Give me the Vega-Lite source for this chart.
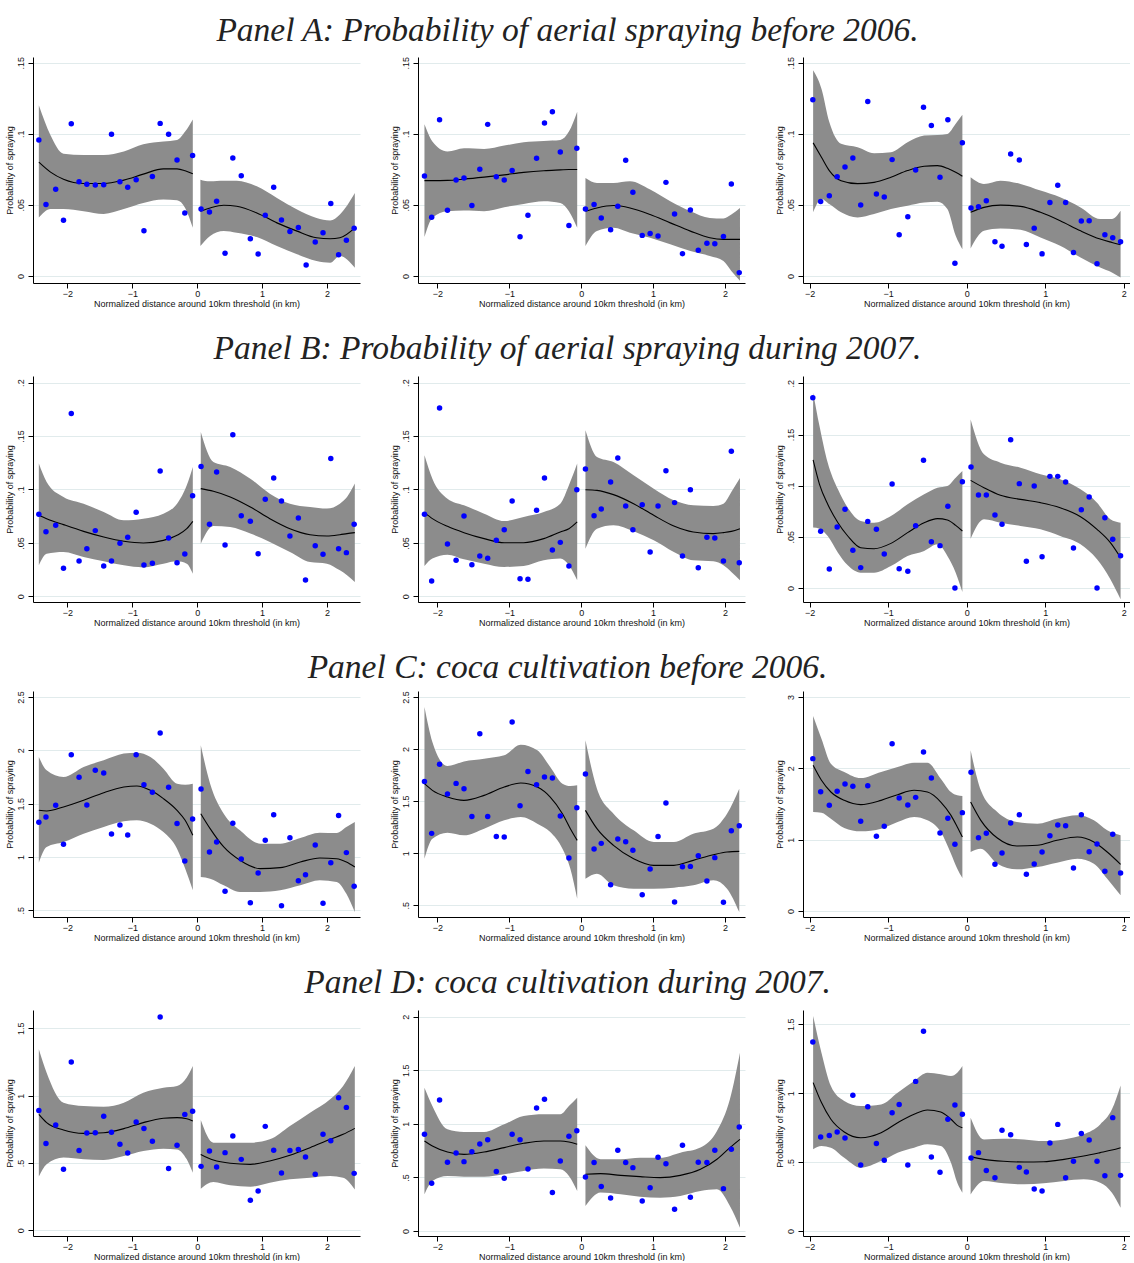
{
"$schema":"https://vega.github.io/schema/vega-lite/v6.json",
"padding":{"left":5,"top":13,"right":0,"bottom":0},
"background":"white",
"spacing":24,
"datasets":{
"A1":[{"x":-2.44,"y":0.0956},{"x":-2.33,"y":0.0502},{"x":-2.18,"y":0.0609},{"x":-2.06,"y":0.0392},{"x":-1.94,"y":0.1071},{"x":-1.82,"y":0.0663},{"x":-1.7,"y":0.0644},{"x":-1.57,"y":0.0639},{"x":-1.44,"y":0.0642},{"x":-1.32,"y":0.0996},{"x":-1.19,"y":0.0663},{"x":-1.07,"y":0.0623},{"x":-0.94,"y":0.0677},{"x":-0.82,"y":0.0317},{"x":-0.69,"y":0.07},{"x":-0.57,"y":0.1073},{"x":-0.44,"y":0.0996},{"x":-0.31,"y":0.0816},{"x":-0.19,"y":0.0443},{"x":-0.07,"y":0.0847},{"x":0.06,"y":0.0471},{"x":0.19,"y":0.045},{"x":0.3,"y":0.0525},{"x":0.43,"y":0.0159},{"x":0.55,"y":0.083},{"x":0.68,"y":0.0705},{"x":0.82,"y":0.0261},{"x":0.94,"y":0.0154},{"x":1.05,"y":0.0427},{"x":1.18,"y":0.0623},{"x":1.3,"y":0.0394},{"x":1.43,"y":0.0313},{"x":1.56,"y":0.0341},{"x":1.68,"y":0.0077},{"x":1.82,"y":0.0238},{"x":1.94,"y":0.0303},{"x":2.06,"y":0.0509},{"x":2.18,"y":0.0149},{"x":2.3,"y":0.025},{"x":2.42,"y":0.0336}],
"A1c":[{"s":0,"x":-2.44,"f":0.08,"l":0.041,"h":0.12},{"s":0,"x":-2.26,"f":0.073,"l":0.047,"h":0.099},{"s":0,"x":-2.06,"f":0.068,"l":0.047,"h":0.086},{"s":0,"x":-1.75,"f":0.065,"l":0.0455,"h":0.085},{"s":0,"x":-1.44,"f":0.065,"l":0.0436,"h":0.085},{"s":0,"x":-1.13,"f":0.0674,"l":0.047,"h":0.0875},{"s":0,"x":-0.83,"f":0.0716,"l":0.0513,"h":0.0926},{"s":0,"x":-0.52,"f":0.0753,"l":0.0537,"h":0.0945},{"s":0,"x":-0.31,"f":0.0753,"l":0.0532,"h":0.0956},{"s":0,"x":-0.185,"f":0.074,"l":0.0478,"h":0.1015},{"s":0,"x":-0.067,"f":0.0718,"l":0.0338,"h":0.11},
{"s":1,"x":0.05,"f":0.0455,"l":0.021,"h":0.0677},{"s":1,"x":0.2,"f":0.0478,"l":0.028,"h":0.0665},{"s":1,"x":0.41,"f":0.0497,"l":0.0315,"h":0.067},{"s":1,"x":0.61,"f":0.049,"l":0.0303,"h":0.067},{"s":1,"x":0.92,"f":0.0443,"l":0.0273,"h":0.063},{"s":1,"x":1.23,"f":0.0373,"l":0.021,"h":0.0548},{"s":1,"x":1.54,"f":0.0315,"l":0.0152,"h":0.0467},{"s":1,"x":1.84,"f":0.0268,"l":0.0105,"h":0.0408},{"s":1,"x":2.05,"f":0.0261,"l":0.0093,"h":0.039},{"s":1,"x":2.2,"f":0.0268,"l":0.014,"h":0.0432},{"s":1,"x":2.43,"f":0.0338,"l":0.0058,"h":0.0583}],
"A2":[{"x":-2.18,"y":0.0702},{"x":-2.08,"y":0.0413},{"x":-1.97,"y":0.1099},{"x":-1.86,"y":0.0462},{"x":-1.74,"y":0.0674},{"x":-1.63,"y":0.0688},{"x":-1.52,"y":0.0495},{"x":-1.41,"y":0.0751},{"x":-1.3,"y":0.1066},{"x":-1.18,"y":0.0698},{"x":-1.07,"y":0.0674},{"x":-0.96,"y":0.0742},{"x":-0.85,"y":0.0275},{"x":-0.74,"y":0.0427},{"x":-0.62,"y":0.0828},{"x":-0.51,"y":0.1075},{"x":-0.4,"y":0.1155},{"x":-0.29,"y":0.0872},{"x":-0.17,"y":0.0355},{"x":-0.06,"y":0.0898},{"x":0.06,"y":0.0471},{"x":0.18,"y":0.0502},{"x":0.28,"y":0.0408},{"x":0.41,"y":0.0324},{"x":0.51,"y":0.049},{"x":0.62,"y":0.0814},{"x":0.72,"y":0.0588},{"x":0.85,"y":0.0285},{"x":0.96,"y":0.0299},{"x":1.07,"y":0.028},{"x":1.18,"y":0.0658},{"x":1.3,"y":0.0436},{"x":1.41,"y":0.0156},{"x":1.52,"y":0.0464},{"x":1.63,"y":0.018},{"x":1.75,"y":0.0229},{"x":1.86,"y":0.0226},{"x":1.98,"y":0.0278},{"x":2.09,"y":0.0646},{"x":2.2,"y":0.0023}],
"A2c":[{"s":0,"x":-2.18,"f":0.067,"l":0.0273,"h":0.1066},{"s":0,"x":-2.07,"f":0.067,"l":0.0408,"h":0.0945},{"s":0,"x":-1.86,"f":0.0672,"l":0.0455,"h":0.0875},{"s":0,"x":-1.63,"f":0.0681,"l":0.046,"h":0.0898},{"s":0,"x":-1.35,"f":0.0695,"l":0.0455,"h":0.0893},{"s":0,"x":-1.07,"f":0.0711,"l":0.0483,"h":0.0917},{"s":0,"x":-0.8,"f":0.0728,"l":0.0506,"h":0.094},{"s":0,"x":-0.52,"f":0.074,"l":0.0525,"h":0.0949},{"s":0,"x":-0.29,"f":0.0746,"l":0.0513,"h":0.0956},{"s":0,"x":-0.17,"f":0.0749,"l":0.0455,"h":0.1015},{"s":0,"x":-0.055,"f":0.0749,"l":0.0338,"h":0.1155},
{"s":1,"x":0.06,"f":0.0455,"l":0.021,"h":0.0688},{"s":1,"x":0.22,"f":0.0478,"l":0.0315,"h":0.0653},{"s":1,"x":0.45,"f":0.0495,"l":0.0338,"h":0.0653},{"s":1,"x":0.68,"f":0.0478,"l":0.0303,"h":0.0665},{"s":1,"x":0.96,"f":0.0432,"l":0.0268,"h":0.0607},{"s":1,"x":1.24,"f":0.0373,"l":0.0222,"h":0.0525},{"s":1,"x":1.52,"f":0.0315,"l":0.0175,"h":0.0455},{"s":1,"x":1.79,"f":0.0268,"l":0.014,"h":0.0408},{"s":1,"x":1.98,"f":0.0257,"l":0.0105,"h":0.0404},{"s":1,"x":2.09,"f":0.0257,"l":0.0035,"h":0.0432},{"s":1,"x":2.21,"f":0.0257,"l":-0.0035,"h":0.0478}],
"A3":[{"x":-1.96,"y":0.1239},{"x":-1.86,"y":0.0524},{"x":-1.75,"y":0.0564},{"x":-1.65,"y":0.0698},{"x":-1.55,"y":0.0766},{"x":-1.45,"y":0.083},{"x":-1.35,"y":0.0498},{"x":-1.26,"y":0.1227},{"x":-1.15,"y":0.0576},{"x":-1.05,"y":0.0555},{"x":-0.95,"y":0.0818},{"x":-0.86,"y":0.0289},{"x":-0.75,"y":0.0416},{"x":-0.65,"y":0.0745},{"x":-0.55,"y":0.1187},{"x":-0.45,"y":0.1058},{"x":-0.34,"y":0.0694},{"x":-0.24,"y":0.1098},{"x":-0.15,"y":0.0089},{"x":-0.055,"y":0.0936},{"x":0.055,"y":0.0477},{"x":0.15,"y":0.0487},{"x":0.25,"y":0.0529},{"x":0.36,"y":0.024},{"x":0.45,"y":0.0209},{"x":0.56,"y":0.0858},{"x":0.67,"y":0.0816},{"x":0.76,"y":0.0221},{"x":0.86,"y":0.0336},{"x":0.96,"y":0.0155},{"x":1.06,"y":0.0517},{"x":1.16,"y":0.0637},{"x":1.26,"y":0.0517},{"x":1.36,"y":0.0165},{"x":1.46,"y":0.0386},{"x":1.56,"y":0.0388},{"x":1.66,"y":0.0085},{"x":1.76,"y":0.0289},{"x":1.86,"y":0.0268},{"x":1.96,"y":0.024}],
"A3c":[{"s":0,"x":-1.956,"f":0.0936,"l":0.0447,"h":0.1446},{"s":0,"x":-1.85,"f":0.0835,"l":0.0541,"h":0.1317},{"s":0,"x":-1.75,"f":0.0741,"l":0.0505,"h":0.1082},{"s":0,"x":-1.6,"f":0.067,"l":0.0447,"h":0.0929},{"s":0,"x":-1.39,"f":0.0649,"l":0.0411,"h":0.0905},{"s":0,"x":-1.18,"f":0.0658,"l":0.0435,"h":0.0863},{"s":0,"x":-0.965,"f":0.0694,"l":0.047,"h":0.087},{"s":0,"x":-0.753,"f":0.0741,"l":0.0494,"h":0.094},{"s":0,"x":-0.542,"f":0.0771,"l":0.0517,"h":0.0987},{"s":0,"x":-0.372,"f":0.0776,"l":0.0522,"h":0.0992},{"s":0,"x":-0.246,"f":0.0757,"l":0.047,"h":0.0999},{"s":0,"x":-0.14,"f":0.0729,"l":0.0282,"h":0.107},{"s":0,"x":-0.055,"f":0.0701,"l":0.0188,"h":0.1133},
{"s":1,"x":0.05,"f":0.0447,"l":0.0193,"h":0.0694},{"s":1,"x":0.22,"f":0.0482,"l":0.0317,"h":0.0647},{"s":1,"x":0.43,"f":0.0498,"l":0.0334,"h":0.067},{"s":1,"x":0.686,"f":0.0489,"l":0.0324,"h":0.0647},{"s":1,"x":0.94,"f":0.0447,"l":0.027,"h":0.06},{"s":1,"x":1.19,"f":0.0388,"l":0.0212,"h":0.0553},{"s":1,"x":1.45,"f":0.0317,"l":0.0129,"h":0.0482},{"s":1,"x":1.7,"f":0.0259,"l":0.0059,"h":0.04},{"s":1,"x":1.85,"f":0.0235,"l":0.0024,"h":0.04},{"s":1,"x":1.96,"f":0.0219,"l":-0.0012,"h":0.0458}],
"B1":[{"x":-2.44,"y":0.0768},{"x":-2.33,"y":0.0605},{"x":-2.18,"y":0.0665},{"x":-2.06,"y":0.0262},{"x":-1.94,"y":0.171},{"x":-1.82,"y":0.0331},{"x":-1.7,"y":0.0446},{"x":-1.57,"y":0.0615},{"x":-1.44,"y":0.0284},{"x":-1.32,"y":0.0331},{"x":-1.19,"y":0.0496},{"x":-1.07,"y":0.0552},{"x":-0.94,"y":0.0786},{"x":-0.82,"y":0.0293},{"x":-0.69,"y":0.0309},{"x":-0.57,"y":0.1173},{"x":-0.44,"y":0.0546},{"x":-0.31,"y":0.0315},{"x":-0.19,"y":0.0396},{"x":-0.07,"y":0.0942},{"x":0.06,"y":0.1214},{"x":0.19,"y":0.0674},{"x":0.3,"y":0.1164},{"x":0.43,"y":0.048},{"x":0.55,"y":0.1513},{"x":0.68,"y":0.0755},{"x":0.82,"y":0.0702},{"x":0.94,"y":0.0399},{"x":1.05,"y":0.0908},{"x":1.18,"y":0.1108},{"x":1.3,"y":0.0892},{"x":1.43,"y":0.0565},{"x":1.56,"y":0.0733},{"x":1.67,"y":0.0153},{"x":1.82,"y":0.0474},{"x":1.94,"y":0.0393},{"x":2.06,"y":0.1289},{"x":2.18,"y":0.0446},{"x":2.3,"y":0.0409},{"x":2.42,"y":0.0674}],
"B1c":[{"s":0,"x":-2.44,"f":0.0758,"l":0.029,"h":0.1242},{"s":0,"x":-2.32,"f":0.0727,"l":0.0399,"h":0.107},{"s":0,"x":-2.06,"f":0.0671,"l":0.0415,"h":0.093},{"s":0,"x":-1.75,"f":0.0608,"l":0.0368,"h":0.0867},{"s":0,"x":-1.44,"f":0.0555,"l":0.0328,"h":0.0789},{"s":0,"x":-1.13,"f":0.0515,"l":0.029,"h":0.0711},{"s":0,"x":-0.83,"f":0.0499,"l":0.0271,"h":0.0727},{"s":0,"x":-0.52,"f":0.0524,"l":0.0306,"h":0.0774},{"s":0,"x":-0.31,"f":0.0571,"l":0.0328,"h":0.0867},{"s":0,"x":-0.16,"f":0.0633,"l":0.0306,"h":0.1039},{"s":0,"x":-0.067,"f":0.0702,"l":0.0212,"h":0.1211},
{"s":1,"x":0.056,"f":0.1008,"l":0.0493,"h":0.1538},{"s":1,"x":0.25,"f":0.0983,"l":0.0658,"h":0.1257},{"s":1,"x":0.51,"f":0.093,"l":0.0649,"h":0.1211},{"s":1,"x":0.82,"f":0.0836,"l":0.0587,"h":0.1101},{"s":1,"x":1.12,"f":0.0727,"l":0.0509,"h":0.0961},{"s":1,"x":1.43,"f":0.0633,"l":0.0415,"h":0.0867},{"s":1,"x":1.74,"f":0.0577,"l":0.0321,"h":0.0836},{"s":1,"x":2.0,"f":0.0565,"l":0.0306,"h":0.0821},{"s":1,"x":2.2,"f":0.0577,"l":0.0243,"h":0.0867},{"s":1,"x":2.31,"f":0.0587,"l":0.0197,"h":0.093},{"s":1,"x":2.43,"f":0.0596,"l":0.0134,"h":0.1055}],
"B2":[{"x":-2.18,"y":0.0768},{"x":-2.08,"y":0.0144},{"x":-1.97,"y":0.1763},{"x":-1.86,"y":0.049},{"x":-1.74,"y":0.0337},{"x":-1.63,"y":0.0752},{"x":-1.52,"y":0.0296},{"x":-1.41,"y":0.0378},{"x":-1.3,"y":0.0356},{"x":-1.18,"y":0.0524},{"x":-1.07,"y":0.0624},{"x":-0.96,"y":0.0892},{"x":-0.85,"y":0.0165},{"x":-0.74,"y":0.0159},{"x":-0.62,"y":0.0805},{"x":-0.51,"y":0.1108},{"x":-0.4,"y":0.0434},{"x":-0.29,"y":0.0505},{"x":-0.17,"y":0.0284},{"x":-0.06,"y":0.0998},{"x":0.06,"y":0.1192},{"x":0.18,"y":0.0755},{"x":0.28,"y":0.0817},{"x":0.41,"y":0.107},{"x":0.51,"y":0.1295},{"x":0.62,"y":0.0846},{"x":0.72,"y":0.0624},{"x":0.85,"y":0.0858},{"x":0.96,"y":0.0415},{"x":1.07,"y":0.0846},{"x":1.18,"y":0.1176},{"x":1.3,"y":0.0877},{"x":1.41,"y":0.0378},{"x":1.52,"y":0.0998},{"x":1.63,"y":0.0268},{"x":1.75,"y":0.0552},{"x":1.86,"y":0.0546},{"x":1.98,"y":0.0331},{"x":2.09,"y":0.1357},{"x":2.2,"y":0.0315}],
"B2c":[{"s":0,"x":-2.18,"f":0.0783,"l":0.0284,"h":0.132},{"s":0,"x":-2.07,"f":0.0727,"l":0.0353,"h":0.1101},{"s":0,"x":-1.86,"f":0.0655,"l":0.039,"h":0.0914},{"s":0,"x":-1.63,"f":0.0596,"l":0.0346,"h":0.0852},{"s":0,"x":-1.35,"f":0.054,"l":0.0306,"h":0.0774},{"s":0,"x":-1.07,"f":0.0502,"l":0.0275,"h":0.0705},{"s":0,"x":-0.8,"f":0.0502,"l":0.0284,"h":0.0743},{"s":0,"x":-0.52,"f":0.054,"l":0.0337,"h":0.0789},{"s":0,"x":-0.29,"f":0.0602,"l":0.0353,"h":0.0867},{"s":0,"x":-0.17,"f":0.0633,"l":0.029,"h":0.1039},{"s":0,"x":-0.055,"f":0.0696,"l":0.015,"h":0.1242},
{"s":1,"x":0.06,"f":0.0998,"l":0.0446,"h":0.1554},{"s":1,"x":0.22,"f":0.0992,"l":0.0633,"h":0.1304},{"s":1,"x":0.45,"f":0.0952,"l":0.0665,"h":0.1257},{"s":1,"x":0.73,"f":0.0867,"l":0.0608,"h":0.1133},{"s":1,"x":1.01,"f":0.0758,"l":0.0524,"h":0.1008},{"s":1,"x":1.29,"f":0.0658,"l":0.0415,"h":0.0899},{"s":1,"x":1.56,"f":0.0602,"l":0.0337,"h":0.0852},{"s":1,"x":1.84,"f":0.0587,"l":0.0328,"h":0.0846},{"s":1,"x":1.98,"f":0.0596,"l":0.029,"h":0.0867},{"s":1,"x":2.09,"f":0.0608,"l":0.0228,"h":0.0977},{"s":1,"x":2.21,"f":0.0633,"l":0.015,"h":0.1108}],
"B3":[{"x":-1.96,"y":0.186},{"x":-1.86,"y":0.0554},{"x":-1.75,"y":0.0186},{"x":-1.65,"y":0.0596},{"x":-1.55,"y":0.0769},{"x":-1.45,"y":0.0368},{"x":-1.35,"y":0.0199},{"x":-1.26,"y":0.0651},{"x":-1.15,"y":0.0573},{"x":-1.05,"y":0.0332},{"x":-0.95,"y":0.1016},{"x":-0.86,"y":0.0189},{"x":-0.75,"y":0.0163},{"x":-0.65,"y":0.0609},{"x":-0.55,"y":0.1248},{"x":-0.45,"y":0.0453},{"x":-0.34,"y":0.0414},{"x":-0.24,"y":0.0798},{"x":-0.15,"y":0},{"x":-0.055,"y":0.1039},{"x":0.055,"y":0.1182},{"x":0.15,"y":0.0909},{"x":0.25,"y":0.0909},{"x":0.36,"y":0.0713},{"x":0.45,"y":0.0622},{"x":0.56,"y":0.145},{"x":0.67,"y":0.102},{"x":0.76,"y":0.0261},{"x":0.86,"y":0.0997},{"x":0.96,"y":0.0306},{"x":1.06,"y":0.1091},{"x":1.16,"y":0.1091},{"x":1.26,"y":0.1036},{"x":1.36,"y":0.0391},{"x":1.46,"y":0.0765},{"x":1.56,"y":0.0889},{"x":1.66,"y":0},{"x":1.76,"y":0.0687},{"x":1.86,"y":0.0476},{"x":1.96,"y":0.0316}],
"B3c":[{"s":0,"x":-1.956,"f":0.1251,"l":0.059,"h":0.1909},{"s":0,"x":-1.875,"f":0.1013,"l":0.058,"h":0.1583},{"s":0,"x":-1.77,"f":0.0818,"l":0.0508,"h":0.1225},{"s":0,"x":-1.64,"f":0.0638,"l":0.0345,"h":0.0964},{"s":0,"x":-1.515,"f":0.0508,"l":0.0221,"h":0.0785},{"s":0,"x":-1.35,"f":0.0394,"l":0.015,"h":0.0655},{"s":0,"x":-1.18,"f":0.0384,"l":0.015,"h":0.0638},{"s":0,"x":-0.965,"f":0.0436,"l":0.0215,"h":0.0704},{"s":0,"x":-0.753,"f":0.0541,"l":0.0313,"h":0.0818},{"s":0,"x":-0.542,"f":0.0638,"l":0.0362,"h":0.0915},{"s":0,"x":-0.372,"f":0.0678,"l":0.0427,"h":0.098},{"s":0,"x":-0.246,"f":0.0664,"l":0.0313,"h":0.0997},{"s":0,"x":-0.14,"f":0.0612,"l":0.015,"h":0.1078},{"s":0,"x":-0.055,"f":0.0557,"l":-0.0039,"h":0.1143},
{"s":1,"x":0.05,"f":0.1052,"l":0.0482,"h":0.1648},{"s":1,"x":0.22,"f":0.098,"l":0.0671,"h":0.1306},{"s":1,"x":0.43,"f":0.0906,"l":0.0638,"h":0.1225},{"s":1,"x":0.686,"f":0.0866,"l":0.0606,"h":0.1176},{"s":1,"x":0.94,"f":0.0834,"l":0.0573,"h":0.1111},{"s":1,"x":1.19,"f":0.0785,"l":0.0508,"h":0.1062},{"s":1,"x":1.45,"f":0.0697,"l":0.0427,"h":0.0964},{"s":1,"x":1.66,"f":0.0573,"l":0.028,"h":0.0834},{"s":1,"x":1.83,"f":0.0443,"l":0.0085,"h":0.0671},{"s":1,"x":1.96,"f":0.0296,"l":-0.0111,"h":0.0638}],
"C1":[{"x":-2.44,"y":1.325},{"x":-2.33,"y":1.375},{"x":-2.18,"y":1.484},{"x":-2.06,"y":1.119},{"x":-1.94,"y":1.959},{"x":-1.82,"y":1.747},{"x":-1.7,"y":1.488},{"x":-1.57,"y":1.813},{"x":-1.44,"y":1.788},{"x":-1.32,"y":1.216},{"x":-1.19,"y":1.3},{"x":-1.07,"y":1.206},{"x":-0.94,"y":1.959},{"x":-0.82,"y":1.678},{"x":-0.69,"y":1.606},{"x":-0.57,"y":2.163},{"x":-0.44,"y":1.653},{"x":-0.31,"y":1.313},{"x":-0.19,"y":0.963},{"x":-0.07,"y":1.356},{"x":0.06,"y":1.638},{"x":0.19,"y":1.047},{"x":0.3,"y":1.141},{"x":0.43,"y":0.678},{"x":0.55,"y":1.316},{"x":0.68,"y":0.981},{"x":0.82,"y":0.572},{"x":0.94,"y":0.85},{"x":1.05,"y":1.156},{"x":1.18,"y":1.397},{"x":1.3,"y":0.544},{"x":1.43,"y":1.181},{"x":1.56,"y":0.778},{"x":1.67,"y":0.834},{"x":1.82,"y":1.113},{"x":1.94,"y":0.566},{"x":2.06,"y":0.947},{"x":2.18,"y":1.388},{"x":2.3,"y":1.041},{"x":2.42,"y":0.725}],
"C1c":[{"s":0,"x":-2.44,"f":1.4375,"l":0.947,"h":1.9375},{"s":0,"x":-2.32,"f":1.431,"l":1.094,"h":1.8125},{"s":0,"x":-2.06,"f":1.469,"l":1.141,"h":1.75},{"s":0,"x":-1.75,"f":1.531,"l":1.219,"h":1.844},{"s":0,"x":-1.44,"f":1.603,"l":1.281,"h":1.906},{"s":0,"x":-1.13,"f":1.656,"l":1.334,"h":1.969},{"s":0,"x":-0.93,"f":1.666,"l":1.344,"h":1.978},{"s":0,"x":-0.72,"f":1.625,"l":1.3125,"h":1.9375},{"s":0,"x":-0.52,"f":1.547,"l":1.234,"h":1.828},{"s":0,"x":-0.31,"f":1.4375,"l":1.078,"h":1.6875},{"s":0,"x":-0.185,"f":1.344,"l":0.891,"h":1.678},{"s":0,"x":-0.067,"f":1.203,"l":0.6875,"h":1.6875},
{"s":1,"x":0.056,"f":1.406,"l":0.8125,"h":2.047},{"s":1,"x":0.2,"f":1.266,"l":0.797,"h":1.6875},{"s":1,"x":0.41,"f":1.094,"l":0.734,"h":1.406},{"s":1,"x":0.66,"f":0.969,"l":0.672,"h":1.25},{"s":1,"x":0.97,"f":0.891,"l":0.672,"h":1.125},{"s":1,"x":1.28,"f":0.9,"l":0.6875,"h":1.125},{"s":1,"x":1.59,"f":0.953,"l":0.734,"h":1.178},{"s":1,"x":1.89,"f":0.991,"l":0.781,"h":1.228},{"s":1,"x":2.15,"f":0.984,"l":0.766,"h":1.225},{"s":1,"x":2.3,"f":0.953,"l":0.656,"h":1.281},{"s":1,"x":2.43,"f":0.906,"l":0.484,"h":1.328}],
"C2":[{"x":-2.18,"y":1.69},{"x":-2.08,"y":1.191},{"x":-1.97,"y":1.854},{"x":-1.86,"y":1.569},{"x":-1.74,"y":1.671},{"x":-1.63,"y":1.62},{"x":-1.52,"y":1.354},{"x":-1.41,"y":2.148},{"x":-1.3,"y":1.354},{"x":-1.18,"y":1.162},{"x":-1.07,"y":1.156},{"x":-0.96,"y":2.26},{"x":-0.85,"y":1.457},{"x":-0.74,"y":1.786},{"x":-0.62,"y":1.658},{"x":-0.51,"y":1.732},{"x":-0.4,"y":1.722},{"x":-0.29,"y":1.358},{"x":-0.17,"y":0.954},{"x":-0.06,"y":1.438},{"x":0.06,"y":1.761},{"x":0.18,"y":1.041},{"x":0.28,"y":1.095},{"x":0.41,"y":0.698},{"x":0.51,"y":1.137},{"x":0.62,"y":1.111},{"x":0.72,"y":1.028},{"x":0.85,"y":0.602},{"x":0.96,"y":0.849},{"x":1.07,"y":1.162},{"x":1.18,"y":1.482},{"x":1.3,"y":0.532},{"x":1.41,"y":0.871},{"x":1.52,"y":0.874},{"x":1.63,"y":0.977},{"x":1.75,"y":0.734},{"x":1.86,"y":0.958},{"x":1.98,"y":0.529},{"x":2.09,"y":1.217},{"x":2.2,"y":1.265}],
"C2c":[{"s":0,"x":-2.18,"f":1.668,"l":0.948,"h":2.404},{"s":0,"x":-2.07,"f":1.604,"l":1.14,"h":2.068},{"s":0,"x":-1.86,"f":1.54,"l":1.198,"h":1.838},{"s":0,"x":-1.63,"f":1.508,"l":1.172,"h":1.882},{"s":0,"x":-1.35,"f":1.556,"l":1.236,"h":1.908},{"s":0,"x":-1.07,"f":1.636,"l":1.316,"h":1.94},{"s":0,"x":-0.84,"f":1.674,"l":1.348,"h":2.042},{"s":0,"x":-0.61,"f":1.636,"l":1.284,"h":1.988},{"s":0,"x":-0.43,"f":1.54,"l":1.204,"h":1.828},{"s":0,"x":-0.26,"f":1.38,"l":1.044,"h":1.668},{"s":0,"x":-0.15,"f":1.236,"l":0.852,"h":1.646},{"s":0,"x":-0.055,"f":1.124,"l":0.564,"h":1.652},
{"s":1,"x":0.06,"f":1.412,"l":0.756,"h":2.084},{"s":1,"x":0.22,"f":1.236,"l":0.804,"h":1.62},{"s":1,"x":0.45,"f":1.076,"l":0.692,"h":1.38},{"s":1,"x":0.73,"f":0.948,"l":0.66,"h":1.22},{"s":1,"x":1.01,"f":0.884,"l":0.66,"h":1.108},{"s":1,"x":1.29,"f":0.884,"l":0.67,"h":1.108},{"s":1,"x":1.56,"f":0.932,"l":0.692,"h":1.188},{"s":1,"x":1.84,"f":0.986,"l":0.74,"h":1.236},{"s":1,"x":2.03,"f":1.012,"l":0.66,"h":1.38},{"s":1,"x":2.2,"f":1.018,"l":0.436,"h":1.62}],
"C3":[{"x":-1.96,"y":2.136},{"x":-1.86,"y":1.673},{"x":-1.75,"y":1.481},{"x":-1.65,"y":1.678},{"x":-1.55,"y":1.78},{"x":-1.45,"y":1.748},{"x":-1.35,"y":1.257},{"x":-1.26,"y":1.757},{"x":-1.15,"y":1.047},{"x":-1.05,"y":1.187},{"x":-0.95,"y":2.346},{"x":-0.86,"y":1.584},{"x":-0.75,"y":1.486},{"x":-0.65,"y":1.593},{"x":-0.55,"y":2.229},{"x":-0.45,"y":1.864},{"x":-0.34,"y":1.093},{"x":-0.24,"y":1.299},{"x":-0.15,"y":0.935},{"x":-0.055,"y":1.379},{"x":0.055,"y":1.944},{"x":0.15,"y":1.028},{"x":0.25,"y":1.089},{"x":0.36,"y":0.654},{"x":0.45,"y":0.813},{"x":0.56,"y":1.234},{"x":0.67,"y":1.35},{"x":0.76,"y":0.514},{"x":0.86,"y":0.659},{"x":0.96,"y":0.827},{"x":1.06,"y":1.056},{"x":1.16,"y":1.206},{"x":1.26,"y":1.196},{"x":1.36,"y":0.603},{"x":1.46,"y":1.35},{"x":1.56,"y":0.832},{"x":1.66,"y":0.939},{"x":1.76,"y":0.556},{"x":1.86,"y":1.075},{"x":1.96,"y":0.533}],
"C3c":[{"s":0,"x":-1.956,"f":2.042,"l":1.388,"h":2.734},{"s":0,"x":-1.85,"f":1.832,"l":1.379,"h":2.416},{"s":0,"x":-1.73,"f":1.668,"l":1.294,"h":2.065},{"s":0,"x":-1.56,"f":1.551,"l":1.164,"h":1.949},{"s":0,"x":-1.35,"f":1.491,"l":1.117,"h":1.864},{"s":0,"x":-1.09,"f":1.551,"l":1.154,"h":1.949},{"s":0,"x":-0.88,"f":1.631,"l":1.248,"h":2.019},{"s":0,"x":-0.67,"f":1.692,"l":1.318,"h":2.079},{"s":0,"x":-0.5,"f":1.668,"l":1.271,"h":2.079},{"s":0,"x":-0.33,"f":1.528,"l":1.107,"h":1.855},{"s":0,"x":-0.2,"f":1.341,"l":0.804,"h":1.668},{"s":0,"x":-0.12,"f":1.178,"l":0.593,"h":1.621},{"s":0,"x":-0.055,"f":1.037,"l":0.463,"h":1.612},
{"s":1,"x":0.05,"f":1.528,"l":0.827,"h":2.252},{"s":1,"x":0.18,"f":1.271,"l":0.874,"h":1.692},{"s":1,"x":0.39,"f":1.023,"l":0.664,"h":1.388},{"s":1,"x":0.64,"f":0.911,"l":0.584,"h":1.248},{"s":1,"x":0.9,"f":0.921,"l":0.617,"h":1.224},{"s":1,"x":1.15,"f":0.991,"l":0.678,"h":1.294},{"s":1,"x":1.41,"f":1.037,"l":0.734,"h":1.341},{"s":1,"x":1.62,"f":0.967,"l":0.664,"h":1.271},{"s":1,"x":1.79,"f":0.827,"l":0.453,"h":1.131},{"s":1,"x":1.96,"f":0.654,"l":0.22,"h":1.061}],
"D1":[{"x":-2.44,"y":0.889},{"x":-2.33,"y":0.644},{"x":-2.18,"y":0.782},{"x":-2.06,"y":0.453},{"x":-1.94,"y":1.25},{"x":-1.82,"y":0.592},{"x":-1.7,"y":0.723},{"x":-1.57,"y":0.725},{"x":-1.44,"y":0.847},{"x":-1.32,"y":0.728},{"x":-1.19,"y":0.639},{"x":-1.07,"y":0.574},{"x":-0.94,"y":0.804},{"x":-0.82,"y":0.757},{"x":-0.69,"y":0.661},{"x":-0.57,"y":1.584},{"x":-0.44,"y":0.46},{"x":-0.31,"y":0.631},{"x":-0.19,"y":0.861},{"x":-0.07,"y":0.884},{"x":0.06,"y":0.475},{"x":0.19,"y":0.589},{"x":0.3,"y":0.47},{"x":0.43,"y":0.577},{"x":0.55,"y":0.7},{"x":0.68,"y":0.527},{"x":0.82,"y":0.223},{"x":0.94,"y":0.292},{"x":1.05,"y":0.772},{"x":1.18,"y":0.594},{"x":1.3,"y":0.426},{"x":1.43,"y":0.592},{"x":1.56,"y":0.601},{"x":1.67,"y":0.545},{"x":1.82,"y":0.416},{"x":1.94,"y":0.713},{"x":2.06,"y":0.666},{"x":2.18,"y":0.985},{"x":2.3,"y":0.913},{"x":2.42,"y":0.423}],
"D1c":[{"s":0,"x":-2.44,"f":0.861,"l":0.399,"h":1.344},{"s":0,"x":-2.32,"f":0.8,"l":0.49,"h":1.171},{"s":0,"x":-2.06,"f":0.745,"l":0.54,"h":0.948},{"s":0,"x":-1.75,"f":0.72,"l":0.527,"h":0.923},{"s":0,"x":-1.44,"f":0.725,"l":0.522,"h":0.918},{"s":0,"x":-1.13,"f":0.755,"l":0.552,"h":0.948},{"s":0,"x":-0.83,"f":0.8,"l":0.589,"h":1.022},{"s":0,"x":-0.52,"f":0.832,"l":0.606,"h":1.059},{"s":0,"x":-0.31,"f":0.837,"l":0.601,"h":1.072},{"s":0,"x":-0.16,"f":0.829,"l":0.527,"h":1.134},{"s":0,"x":-0.067,"f":0.812,"l":0.428,"h":1.22},
{"s":1,"x":0.056,"f":0.564,"l":0.309,"h":0.819},{"s":1,"x":0.25,"f":0.522,"l":0.359,"h":0.651},{"s":1,"x":0.51,"f":0.498,"l":0.334,"h":0.651},{"s":1,"x":0.82,"f":0.49,"l":0.324,"h":0.651},{"s":1,"x":1.12,"f":0.515,"l":0.354,"h":0.676},{"s":1,"x":1.43,"f":0.557,"l":0.379,"h":0.775},{"s":1,"x":1.74,"f":0.614,"l":0.391,"h":0.874},{"s":1,"x":2.05,"f":0.676,"l":0.403,"h":0.973},{"s":1,"x":2.25,"f":0.713,"l":0.391,"h":1.072},{"s":1,"x":2.43,"f":0.757,"l":0.304,"h":1.22}],
"D2":[{"x":-2.18,"y":0.902},{"x":-2.08,"y":0.445},{"x":-1.97,"y":1.222},{"x":-1.86,"y":0.641},{"x":-1.74,"y":0.728},{"x":-1.63,"y":0.647},{"x":-1.52,"y":0.74},{"x":-1.41,"y":0.812},{"x":-1.3,"y":0.852},{"x":-1.18,"y":0.554},{"x":-1.07,"y":0.491},{"x":-0.96,"y":0.902},{"x":-0.85,"y":0.852},{"x":-0.74,"y":0.579},{"x":-0.62,"y":1.148},{"x":-0.51,"y":1.229},{"x":-0.4,"y":0.358},{"x":-0.29,"y":0.653},{"x":-0.17,"y":0.883},{"x":-0.06,"y":0.936},{"x":0.06,"y":0.504},{"x":0.18,"y":0.638},{"x":0.28,"y":0.414},{"x":0.41,"y":0.308},{"x":0.51,"y":0.753},{"x":0.62,"y":0.638},{"x":0.72,"y":0.591},{"x":0.85,"y":0.28},{"x":0.96,"y":0.404},{"x":1.07,"y":0.687},{"x":1.18,"y":0.628},{"x":1.3,"y":0.202},{"x":1.41,"y":0.799},{"x":1.52,"y":0.314},{"x":1.63,"y":0.641},{"x":1.75,"y":0.638},{"x":1.86,"y":0.753},{"x":1.98,"y":0.395},{"x":2.09,"y":0.762},{"x":2.2,"y":0.97}],
"D2c":[{"s":0,"x":-2.18,"f":0.84,"l":0.342,"h":1.337},{"s":0,"x":-2.07,"f":0.793,"l":0.467,"h":1.166},{"s":0,"x":-1.86,"f":0.737,"l":0.513,"h":0.949},{"s":0,"x":-1.63,"f":0.715,"l":0.507,"h":0.924},{"s":0,"x":-1.35,"f":0.737,"l":0.507,"h":0.924},{"s":0,"x":-1.07,"f":0.778,"l":0.529,"h":0.995},{"s":0,"x":-0.8,"f":0.818,"l":0.56,"h":1.073},{"s":0,"x":-0.52,"f":0.84,"l":0.582,"h":1.089},{"s":0,"x":-0.29,"f":0.84,"l":0.575,"h":1.089},{"s":0,"x":-0.17,"f":0.83,"l":0.513,"h":1.166},{"s":0,"x":-0.055,"f":0.809,"l":0.373,"h":1.244},
{"s":1,"x":0.06,"f":0.529,"l":0.233,"h":0.799},{"s":1,"x":0.27,"f":0.535,"l":0.358,"h":0.669},{"s":1,"x":0.55,"f":0.519,"l":0.342,"h":0.669},{"s":1,"x":0.82,"f":0.507,"l":0.32,"h":0.684},{"s":1,"x":1.1,"f":0.498,"l":0.311,"h":0.684},{"s":1,"x":1.38,"f":0.519,"l":0.327,"h":0.731},{"s":1,"x":1.66,"f":0.575,"l":0.373,"h":0.778},{"s":1,"x":1.89,"f":0.669,"l":0.389,"h":0.933},{"s":1,"x":2.07,"f":0.778,"l":0.233,"h":1.229},{"s":1,"x":2.21,"f":0.855,"l":0.031,"h":1.664}],
"D3":[{"x":-1.96,"y":1.372},{"x":-1.86,"y":0.682},{"x":-1.75,"y":0.694},{"x":-1.65,"y":0.719},{"x":-1.55,"y":0.675},{"x":-1.45,"y":0.985},{"x":-1.35,"y":0.479},{"x":-1.26,"y":0.902},{"x":-1.15,"y":0.636},{"x":-1.05,"y":0.513},{"x":-0.95,"y":0.859},{"x":-0.86,"y":0.919},{"x":-0.75,"y":0.479},{"x":-0.65,"y":1.086},{"x":-0.55,"y":1.449},{"x":-0.45,"y":0.537},{"x":-0.34,"y":0.426},{"x":-0.24,"y":0.811},{"x":-0.15,"y":0.915},{"x":-0.055,"y":0.847},{"x":0.055,"y":0.53},{"x":0.15,"y":0.569},{"x":0.25,"y":0.44},{"x":0.36,"y":0.387},{"x":0.45,"y":0.731},{"x":0.56,"y":0.699},{"x":0.67,"y":0.462},{"x":0.76,"y":0.428},{"x":0.86,"y":0.305},{"x":0.96,"y":0.29},{"x":1.06,"y":0.639},{"x":1.16,"y":0.774},{"x":1.26,"y":0.387},{"x":1.36,"y":0.506},{"x":1.46,"y":0.707},{"x":1.56,"y":0.661},{"x":1.66,"y":0.506},{"x":1.76,"y":0.402},{"x":1.86,"y":0.823},{"x":1.96,"y":0.404}],
"D3c":[{"s":0,"x":-1.956,"f":1.077,"l":0.593,"h":1.561},{"s":0,"x":-1.85,"f":0.932,"l":0.617,"h":1.294},{"s":0,"x":-1.73,"f":0.811,"l":0.605,"h":1.052},{"s":0,"x":-1.56,"f":0.719,"l":0.532,"h":0.944},{"s":0,"x":-1.35,"f":0.677,"l":0.46,"h":0.907},{"s":0,"x":-1.09,"f":0.714,"l":0.508,"h":0.919},{"s":0,"x":-0.88,"f":0.786,"l":0.569,"h":1.004},{"s":0,"x":-0.67,"f":0.847,"l":0.605,"h":1.089},{"s":0,"x":-0.5,"f":0.878,"l":0.629,"h":1.149},{"s":0,"x":-0.33,"f":0.864,"l":0.617,"h":1.137},{"s":0,"x":-0.2,"f":0.811,"l":0.496,"h":1.125},{"s":0,"x":-0.12,"f":0.767,"l":0.351,"h":1.149},{"s":0,"x":-0.055,"f":0.75,"l":0.278,"h":1.198},
{"s":1,"x":0.05,"f":0.54,"l":0.266,"h":0.823},{"s":1,"x":0.22,"f":0.52,"l":0.363,"h":0.665},{"s":1,"x":0.47,"f":0.506,"l":0.346,"h":0.67},{"s":1,"x":0.73,"f":0.501,"l":0.339,"h":0.665},{"s":1,"x":0.98,"f":0.503,"l":0.346,"h":0.653},{"s":1,"x":1.24,"f":0.52,"l":0.363,"h":0.665},{"s":1,"x":1.49,"f":0.544,"l":0.375,"h":0.702},{"s":1,"x":1.7,"f":0.569,"l":0.351,"h":0.774},{"s":1,"x":1.85,"f":0.588,"l":0.278,"h":0.883},{"s":1,"x":1.96,"f":0.605,"l":0.169,"h":1.057}]
},
"vconcat":[
{"title":{"text":"Panel A: Probability of aerial spraying before 2006.","offset":8},"spacing":30,"hconcat":[
{"width":327,"height":226,"encoding":{"x":{"field":"x","type":"quantitative","scale":{"domain":[-2.53,2.51],"nice":false,"zero":false},"axis":{"values":[-2,-1,0,1,2],"title":"Normalized distance around 10km threshold (in km)"}}},
"layer":[{"data":{"name":"A1c"},"mark":{"type":"area","interpolate":"monotone"},"encoding":{"y":{"field":"l","type":"quantitative","scale":{"domain":[-0.005,0.154],"nice":false,"zero":false},"axis":{"values":[0,0.05,0.1,0.15],"title":"Probability of spraying"}},"y2":{"field":"h"},"detail":{"field":"s"}}},
{"data":{"name":"A1c"},"mark":{"type":"line","interpolate":"monotone"},"encoding":{"y":{"field":"f","type":"quantitative"},"detail":{"field":"s"}}},
{"data":{"name":"A1"},"mark":"point","encoding":{"y":{"field":"y","type":"quantitative"}}}]},
{"width":327,"height":226,"encoding":{"x":{"field":"x","type":"quantitative","scale":{"domain":[-2.27,2.28],"nice":false,"zero":false},"axis":{"values":[-2,-1,0,1,2],"title":"Normalized distance around 10km threshold (in km)"}}},
"layer":[{"data":{"name":"A2c"},"mark":{"type":"area","interpolate":"monotone"},"encoding":{"y":{"field":"l","type":"quantitative","scale":{"domain":[-0.005,0.154],"nice":false,"zero":false},"axis":{"values":[0,0.05,0.1,0.15],"title":"Probability of spraying"}},"y2":{"field":"h"},"detail":{"field":"s"}}},
{"data":{"name":"A2c"},"mark":{"type":"line","interpolate":"monotone"},"encoding":{"y":{"field":"f","type":"quantitative"},"detail":{"field":"s"}}},
{"data":{"name":"A2"},"mark":"point","encoding":{"y":{"field":"y","type":"quantitative"}}}]},
{"width":327,"height":226,"encoding":{"x":{"field":"x","type":"quantitative","scale":{"domain":[-2.085,2.08],"nice":false,"zero":false},"axis":{"values":[-2,-1,0,1,2],"title":"Normalized distance around 10km threshold (in km)"}}},
"layer":[{"data":{"name":"A3c"},"mark":{"type":"area","interpolate":"monotone"},"encoding":{"y":{"field":"l","type":"quantitative","scale":{"domain":[-0.005,0.154],"nice":false,"zero":false},"axis":{"values":[0,0.05,0.1,0.15],"title":"Probability of spraying"}},"y2":{"field":"h"},"detail":{"field":"s"}}},
{"data":{"name":"A3c"},"mark":{"type":"line","interpolate":"monotone"},"encoding":{"y":{"field":"f","type":"quantitative"},"detail":{"field":"s"}}},
{"data":{"name":"A3"},"mark":"point","encoding":{"y":{"field":"y","type":"quantitative"}}}]}
]},
{"title":{"text":"Panel B: Probability of aerial spraying during 2007.","offset":9.5},"spacing":30,"hconcat":[
{"width":327,"height":226,"encoding":{"x":{"field":"x","type":"quantitative","scale":{"domain":[-2.53,2.51],"nice":false,"zero":false},"axis":{"values":[-2,-1,0,1,2],"title":"Normalized distance around 10km threshold (in km)"}}},
"layer":[{"data":{"name":"B1c"},"mark":{"type":"area","interpolate":"monotone"},"encoding":{"y":{"field":"l","type":"quantitative","scale":{"domain":[-0.0053,0.2062],"nice":false,"zero":false},"axis":{"values":[0,0.05,0.1,0.15,0.2],"title":"Probability of spraying"}},"y2":{"field":"h"},"detail":{"field":"s"}}},
{"data":{"name":"B1c"},"mark":{"type":"line","interpolate":"monotone"},"encoding":{"y":{"field":"f","type":"quantitative"},"detail":{"field":"s"}}},
{"data":{"name":"B1"},"mark":"point","encoding":{"y":{"field":"y","type":"quantitative"}}}]},
{"width":327,"height":226,"encoding":{"x":{"field":"x","type":"quantitative","scale":{"domain":[-2.27,2.28],"nice":false,"zero":false},"axis":{"values":[-2,-1,0,1,2],"title":"Normalized distance around 10km threshold (in km)"}}},
"layer":[{"data":{"name":"B2c"},"mark":{"type":"area","interpolate":"monotone"},"encoding":{"y":{"field":"l","type":"quantitative","scale":{"domain":[-0.0053,0.2062],"nice":false,"zero":false},"axis":{"values":[0,0.05,0.1,0.15,0.2],"title":"Probability of spraying"}},"y2":{"field":"h"},"detail":{"field":"s"}}},
{"data":{"name":"B2c"},"mark":{"type":"line","interpolate":"monotone"},"encoding":{"y":{"field":"f","type":"quantitative"},"detail":{"field":"s"}}},
{"data":{"name":"B2"},"mark":"point","encoding":{"y":{"field":"y","type":"quantitative"}}}]},
{"width":327,"height":226,"encoding":{"x":{"field":"x","type":"quantitative","scale":{"domain":[-2.085,2.08],"nice":false,"zero":false},"axis":{"values":[-2,-1,0,1,2],"title":"Normalized distance around 10km threshold (in km)"}}},
"layer":[{"data":{"name":"B3c"},"mark":{"type":"area","interpolate":"monotone"},"encoding":{"y":{"field":"l","type":"quantitative","scale":{"domain":[-0.0137,0.2072],"nice":false,"zero":false},"axis":{"values":[0,0.05,0.1,0.15,0.2],"title":"Probability of spraying"}},"y2":{"field":"h"},"detail":{"field":"s"}}},
{"data":{"name":"B3c"},"mark":{"type":"line","interpolate":"monotone"},"encoding":{"y":{"field":"f","type":"quantitative"},"detail":{"field":"s"}}},
{"data":{"name":"B3"},"mark":"point","encoding":{"y":{"field":"y","type":"quantitative"}}}]}
]},
{"title":{"text":"Panel C: coca cultivation before 2006.","offset":5},"spacing":30,"hconcat":[
{"width":327,"height":226,"encoding":{"x":{"field":"x","type":"quantitative","scale":{"domain":[-2.53,2.51],"nice":false,"zero":false},"axis":{"values":[-2,-1,0,1,2],"title":"Normalized distance around 10km threshold (in km)"}}},
"layer":[{"data":{"name":"C1c"},"mark":{"type":"area","interpolate":"monotone"},"encoding":{"y":{"field":"l","type":"quantitative","scale":{"domain":[0.4375,2.556],"nice":false,"zero":false},"axis":{"values":[0.5,1,1.5,2,2.5],"title":"Probability of spraying"}},"y2":{"field":"h"},"detail":{"field":"s"}}},
{"data":{"name":"C1c"},"mark":{"type":"line","interpolate":"monotone"},"encoding":{"y":{"field":"f","type":"quantitative"},"detail":{"field":"s"}}},
{"data":{"name":"C1"},"mark":"point","encoding":{"y":{"field":"y","type":"quantitative"}}}]},
{"width":327,"height":226,"encoding":{"x":{"field":"x","type":"quantitative","scale":{"domain":[-2.27,2.28],"nice":false,"zero":false},"axis":{"values":[-2,-1,0,1,2],"title":"Normalized distance around 10km threshold (in km)"}}},
"layer":[{"data":{"name":"C2c"},"mark":{"type":"area","interpolate":"monotone"},"encoding":{"y":{"field":"l","type":"quantitative","scale":{"domain":[0.388,2.558],"nice":false,"zero":false},"axis":{"values":[0.5,1,1.5,2,2.5],"title":"Probability of spraying"}},"y2":{"field":"h"},"detail":{"field":"s"}}},
{"data":{"name":"C2c"},"mark":{"type":"line","interpolate":"monotone"},"encoding":{"y":{"field":"f","type":"quantitative"},"detail":{"field":"s"}}},
{"data":{"name":"C2"},"mark":"point","encoding":{"y":{"field":"y","type":"quantitative"}}}]},
{"width":327,"height":226,"encoding":{"x":{"field":"x","type":"quantitative","scale":{"domain":[-2.085,2.08],"nice":false,"zero":false},"axis":{"values":[-2,-1,0,1,2],"title":"Normalized distance around 10km threshold (in km)"}}},
"layer":[{"data":{"name":"C3c"},"mark":{"type":"area","interpolate":"monotone"},"encoding":{"y":{"field":"l","type":"quantitative","scale":{"domain":[-0.084,3.084],"nice":false,"zero":false},"axis":{"values":[0,1,2,3],"title":"Probability of spraying"}},"y2":{"field":"h"},"detail":{"field":"s"}}},
{"data":{"name":"C3c"},"mark":{"type":"line","interpolate":"monotone"},"encoding":{"y":{"field":"f","type":"quantitative"},"detail":{"field":"s"}}},
{"data":{"name":"C3"},"mark":"point","encoding":{"y":{"field":"y","type":"quantitative"}}}]}
]},
{"title":{"text":"Panel D: coca cultivation during 2007.","offset":9.5},"spacing":30,"hconcat":[
{"width":327,"height":226,"encoding":{"x":{"field":"x","type":"quantitative","scale":{"domain":[-2.53,2.51],"nice":false,"zero":false},"axis":{"values":[-2,-1,0,1,2],"title":"Normalized distance around 10km threshold (in km)"}}},
"layer":[{"data":{"name":"D1c"},"mark":{"type":"area","interpolate":"monotone"},"encoding":{"y":{"field":"l","type":"quantitative","scale":{"domain":[-0.042,1.636],"nice":false,"zero":false},"axis":{"values":[0,0.5,1,1.5],"title":"Probability of spraying"}},"y2":{"field":"h"},"detail":{"field":"s"}}},
{"data":{"name":"D1c"},"mark":{"type":"line","interpolate":"monotone"},"encoding":{"y":{"field":"f","type":"quantitative"},"detail":{"field":"s"}}},
{"data":{"name":"D1"},"mark":"point","encoding":{"y":{"field":"y","type":"quantitative"}}}]},
{"width":327,"height":226,"encoding":{"x":{"field":"x","type":"quantitative","scale":{"domain":[-2.27,2.28],"nice":false,"zero":false},"axis":{"values":[-2,-1,0,1,2],"title":"Normalized distance around 10km threshold (in km)"}}},
"layer":[{"data":{"name":"D2c"},"mark":{"type":"area","interpolate":"monotone"},"encoding":{"y":{"field":"l","type":"quantitative","scale":{"domain":[-0.047,2.062],"nice":false,"zero":false},"axis":{"values":[0,0.5,1,1.5,2],"title":"Probability of spraying"}},"y2":{"field":"h"},"detail":{"field":"s"}}},
{"data":{"name":"D2c"},"mark":{"type":"line","interpolate":"monotone"},"encoding":{"y":{"field":"f","type":"quantitative"},"detail":{"field":"s"}}},
{"data":{"name":"D2"},"mark":"point","encoding":{"y":{"field":"y","type":"quantitative"}}}]},
{"width":327,"height":226,"encoding":{"x":{"field":"x","type":"quantitative","scale":{"domain":[-2.085,2.08],"nice":false,"zero":false},"axis":{"values":[-2,-1,0,1,2],"title":"Normalized distance around 10km threshold (in km)"}}},
"layer":[{"data":{"name":"D3c"},"mark":{"type":"area","interpolate":"monotone"},"encoding":{"y":{"field":"l","type":"quantitative","scale":{"domain":[-0.036,1.604],"nice":false,"zero":false},"axis":{"values":[0,0.5,1,1.5],"title":"Probability of spraying"}},"y2":{"field":"h"},"detail":{"field":"s"}}},
{"data":{"name":"D3c"},"mark":{"type":"line","interpolate":"monotone"},"encoding":{"y":{"field":"f","type":"quantitative"},"detail":{"field":"s"}}},
{"data":{"name":"D3"},"mark":"point","encoding":{"y":{"field":"y","type":"quantitative"}}}]}
]}
],
"config":{
"view":{"stroke":null},
"font":"Liberation Sans",
"axis":{"domainColor":"#000","domainWidth":1,"tickColor":"#000","tickSize":5,"labelFont":"Liberation Sans","labelFontSize":9,"labelColor":"#111","titleFont":"Liberation Sans","titleFontSize":9,"titleFontWeight":"normal","titleColor":"#111","labelFlush":false,"labelOverlap":false},
"axisX":{"grid":false,"labelPadding":1,"titlePadding":1},
"axisY":{"grid":true,"gridColor":"#e1ebec","gridWidth":1,"labelAngle":-90,"labelAlign":"center","labelBaseline":"bottom","labelPadding":3,"titlePadding":2,"labelExpr":"datum.value > 0 && datum.value < 1 ? replace(format(datum.value, '~g'), '0.', '.') : format(datum.value, '~g')"},
"point":{"filled":true,"color":"#0000ff","size":30,"opacity":1},
"area":{"color":"#8c8c8c","opacity":1},
"line":{"color":"#000","strokeWidth":1.1},
"title":{"font":"Liberation Serif","fontStyle":"italic","fontWeight":"normal","fontSize":33.5,"color":"#222","anchor":"middle"}
}
}
